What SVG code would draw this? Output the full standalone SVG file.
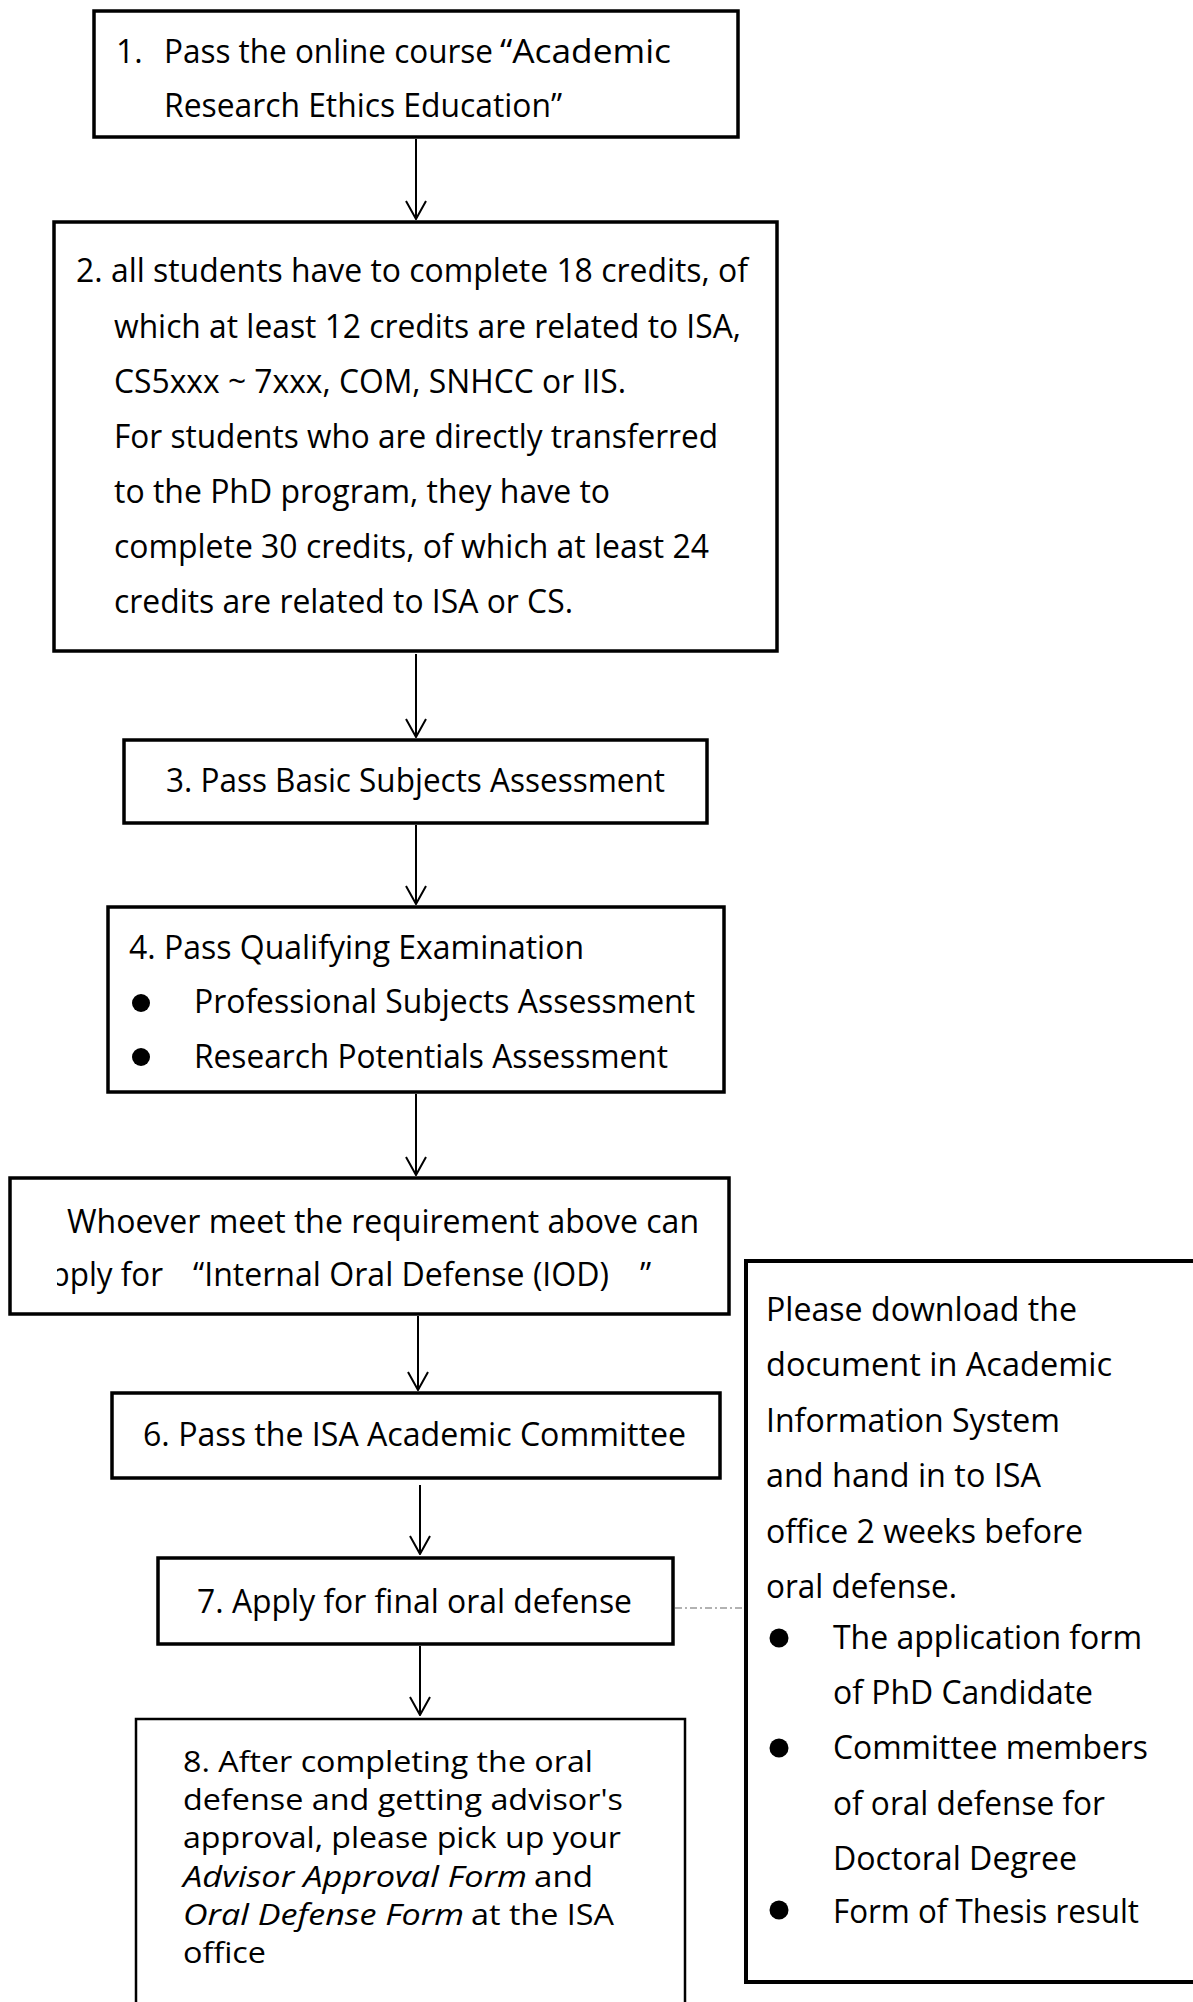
<svg xmlns="http://www.w3.org/2000/svg" width="1193" height="2002" viewBox="0 0 1193 2002">
<style>
.box{fill:#fff;stroke:#000;stroke-width:3.5}
.t{font-family:"Open Sans","Noto Sans",sans-serif;font-size:32px;fill:#000}
.s{font-size:29px}
.i{font-style:italic}
.conn{stroke:#000;stroke-width:2;fill:none}
.dd{stroke:#999;stroke-width:1.3;fill:none;stroke-dasharray:7 3 2 3}
</style>
<defs>
<marker id="arr" viewBox="0 0 20 22" refX="19" refY="11" markerWidth="20" markerHeight="22" markerUnits="userSpaceOnUse" orient="auto">
<path d="M1,1 L19,11 L1,21" fill="none" stroke="#000" stroke-width="2"/>
</marker>
<clipPath id="clip5"><rect x="57" y="1180" width="670" height="132"/></clipPath>
</defs>
<rect width="1193" height="2002" fill="#fff"/>

<g id="connectors">
<line class="conn" x1="416" y1="139" x2="416" y2="219" marker-end="url(#arr)"/>
<line class="conn" x1="416" y1="654" x2="416" y2="737" marker-end="url(#arr)"/>
<line class="conn" x1="416" y1="825" x2="416" y2="904" marker-end="url(#arr)"/>
<line class="conn" x1="416" y1="1094" x2="416" y2="1175" marker-end="url(#arr)"/>
<line class="conn" x1="418" y1="1316" x2="418" y2="1390" marker-end="url(#arr)"/>
<line class="conn" x1="420" y1="1485" x2="420" y2="1554" marker-end="url(#arr)"/>
<line class="conn" x1="420" y1="1646" x2="420" y2="1715" marker-end="url(#arr)"/>
<line class="dd" x1="675" y1="1608" x2="745" y2="1608"/>
</g>

<g id="step1">
<rect class="box" x="94" y="11" width="644" height="126"/>
<text class="t" x="116" y="63">1.</text>
<text class="t" x="164" y="63" textLength="329" lengthAdjust="spacingAndGlyphs">Pass the online course</text>
<text class="t" x="500" y="63" textLength="171" lengthAdjust="spacingAndGlyphs">“Academic</text>
<text class="t" x="164" y="117" textLength="398" lengthAdjust="spacingAndGlyphs">Research Ethics Education”</text>
</g>

<g id="step2">
<rect class="box" x="54" y="222" width="723" height="429"/>
<text class="t" x="76" y="282" textLength="672" lengthAdjust="spacingAndGlyphs">2. all students have to complete 18 credits, of</text>
<text class="t" x="114" y="338" textLength="627" lengthAdjust="spacingAndGlyphs">which at least 12 credits are related to ISA,</text>
<text class="t" x="114" y="393" textLength="512" lengthAdjust="spacingAndGlyphs">CS5xxx ~ 7xxx, COM, SNHCC or IIS.</text>
<text class="t" x="114" y="448" textLength="604" lengthAdjust="spacingAndGlyphs">For students who are directly transferred</text>
<text class="t" x="114" y="503" textLength="496" lengthAdjust="spacingAndGlyphs">to the PhD program, they have to</text>
<text class="t" x="114" y="558" textLength="595" lengthAdjust="spacingAndGlyphs">complete 30 credits, of which at least 24</text>
<text class="t" x="114" y="613" textLength="459" lengthAdjust="spacingAndGlyphs">credits are related to ISA or CS.</text>
</g>

<g id="step3">
<rect class="box" x="124" y="740" width="583" height="83"/>
<text class="t" x="166" y="792" textLength="499" lengthAdjust="spacingAndGlyphs">3. Pass Basic Subjects Assessment</text>
</g>

<g id="step4">
<rect class="box" x="108" y="907" width="616" height="185"/>
<text class="t" x="129" y="959" textLength="455" lengthAdjust="spacingAndGlyphs">4. Pass Qualifying Examination</text>
<circle cx="141" cy="1003" r="9"/>
<text class="t" x="194" y="1013" textLength="501" lengthAdjust="spacingAndGlyphs">Professional Subjects Assessment</text>
<circle cx="141" cy="1057" r="9"/>
<text class="t" x="194" y="1068" textLength="474" lengthAdjust="spacingAndGlyphs">Research Potentials Assessment</text>
</g>

<g id="step5">
<rect class="box" x="10" y="1178" width="719" height="136"/>
<text class="t" x="67" y="1233" textLength="632" lengthAdjust="spacingAndGlyphs">Whoever meet the requirement above can</text>
<g clip-path="url(#clip5)">
<text class="t" x="33" y="1286" textLength="130" lengthAdjust="spacingAndGlyphs">apply for</text>
</g>
<text class="t" x="193" y="1286" textLength="416" lengthAdjust="spacingAndGlyphs">“Internal Oral Defense (IOD)</text>
<text class="t" x="640" y="1286">”</text>
</g>

<g id="step6">
<rect class="box" x="112" y="1393" width="608" height="85"/>
<text class="t" x="143" y="1446" textLength="543" lengthAdjust="spacingAndGlyphs">6. Pass the ISA Academic Committee</text>
</g>

<g id="step7">
<rect class="box" x="158" y="1558" width="515" height="86"/>
<text class="t" x="197" y="1613" textLength="435" lengthAdjust="spacingAndGlyphs">7. Apply for final oral defense</text>
</g>

<g id="step8">
<rect class="box" x="136" y="1719" width="549" height="400" style="stroke-width:2.5"/>
<text class="t s" x="183" y="1772" textLength="410" lengthAdjust="spacingAndGlyphs">8. After completing the oral</text>
<text class="t s" x="183" y="1810" textLength="440" lengthAdjust="spacingAndGlyphs">defense and getting advisor's</text>
<text class="t s" x="183" y="1848" textLength="438" lengthAdjust="spacingAndGlyphs">approval, please pick up your</text>
<text class="t s i" x="183" y="1887" textLength="344" lengthAdjust="spacingAndGlyphs">Advisor Approval Form</text>
<text class="t s" x="534" y="1887" textLength="59" lengthAdjust="spacingAndGlyphs">and</text>
<text class="t s i" x="183" y="1925" textLength="281" lengthAdjust="spacingAndGlyphs">Oral Defense Form</text>
<text class="t s" x="471" y="1925" textLength="143" lengthAdjust="spacingAndGlyphs">at the ISA</text>
<text class="t s" x="183" y="1963" textLength="83" lengthAdjust="spacingAndGlyphs">office</text>
</g>

<g id="note">
<rect class="box" x="746" y="1261" width="520" height="721" style="stroke-width:4"/>
<text class="t" x="766" y="1321" textLength="311" lengthAdjust="spacingAndGlyphs">Please download the</text>
<text class="t" x="766" y="1376" textLength="346" lengthAdjust="spacingAndGlyphs">document in Academic</text>
<text class="t" x="766" y="1432" textLength="294" lengthAdjust="spacingAndGlyphs">Information System</text>
<text class="t" x="766" y="1487" textLength="275" lengthAdjust="spacingAndGlyphs">and hand in to ISA</text>
<text class="t" x="766" y="1543" textLength="317" lengthAdjust="spacingAndGlyphs">office 2 weeks before</text>
<text class="t" x="766" y="1598" textLength="191" lengthAdjust="spacingAndGlyphs">oral defense.</text>
<circle cx="779" cy="1638" r="9.5"/>
<text class="t" x="833" y="1649" textLength="309" lengthAdjust="spacingAndGlyphs">The application form</text>
<text class="t" x="833" y="1704" textLength="260" lengthAdjust="spacingAndGlyphs">of PhD Candidate</text>
<circle cx="779" cy="1748" r="9.5"/>
<text class="t" x="833" y="1759" textLength="315" lengthAdjust="spacingAndGlyphs">Committee members</text>
<text class="t" x="833" y="1815" textLength="272" lengthAdjust="spacingAndGlyphs">of oral defense for</text>
<text class="t" x="833" y="1870" textLength="244" lengthAdjust="spacingAndGlyphs">Doctoral Degree</text>
<circle cx="779" cy="1910" r="9.5"/>
<text class="t" x="833" y="1923" textLength="306" lengthAdjust="spacingAndGlyphs">Form of Thesis result</text>
</g>
</svg>
